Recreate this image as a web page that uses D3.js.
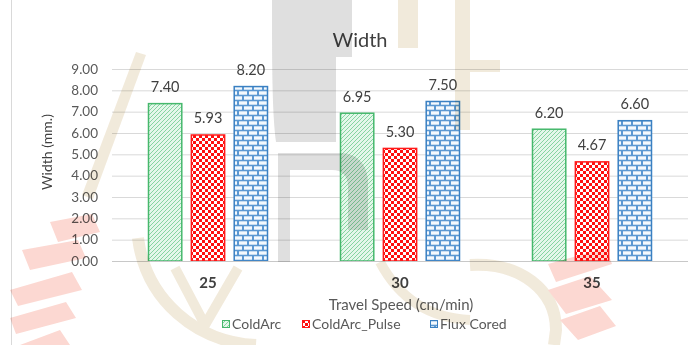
<!DOCTYPE html>
<html>
<head>
<meta charset="utf-8">
<script src="https://cdn.jsdelivr.net/npm/d3@7"></script>
<style>
  html, body { margin: 0; padding: 0; background: #ffffff; }
  svg { display: block; }
  text { font-family: Lato, "Open Sans", sans-serif; }
</style>
</head>
<body>
<svg id="chart" width="696" height="345"></svg>
<script>
// Weld bead width by travel speed and process
const categories = ["25", "30", "35"];
const seriesNames = ["ColdArc", "ColdArc_Pulse", "Flux Cored"];
const coldArc = [7.40, 6.95, 6.20];
const coldArcPulse = [5.93, 5.30, 4.67];
const fluxCored = [8.20, 7.50, 6.60];
const yTicks = [0, 1, 2, 3, 4, 5, 6, 7, 8, 9];

const series = [
  { name: seriesNames[0], values: coldArc, fill: "url(#pat-diag)", stroke: "#46b86c" },
  { name: seriesNames[1], values: coldArcPulse, fill: "url(#pat-check)", stroke: "#ff1a1a" },
  { name: seriesNames[2], values: fluxCored, fill: "url(#pat-brick)", stroke: "#3a80c2" }
];

const W = 696, H = 345;
const margin = { left: 112, right: 8, top: 69, bottom: 84 };
const svg = d3.select("#chart");
const defs = svg.append("defs");

// Fill patterns
const diag = defs.append("pattern").attr("id", "pat-diag")
  .attr("patternUnits", "userSpaceOnUse").attr("width", 4).attr("height", 4);
diag.append("rect").attr("width", 4).attr("height", 4).attr("fill", "#e4f7ea");
diag.append("path").attr("d", "M-1,1 L1,-1 M0,4 L4,0 M3,5 L5,3")
  .attr("stroke", "#86d4a1").attr("stroke-width", 1);

const check = defs.append("pattern").attr("id", "pat-check")
  .attr("patternUnits", "userSpaceOnUse").attr("width", 6).attr("height", 6);
check.append("rect").attr("width", 6).attr("height", 6).attr("fill", "#ffffff");
check.append("rect").attr("width", 3).attr("height", 3).attr("fill", "#ff1010");
check.append("rect").attr("x", 3).attr("y", 3).attr("width", 3).attr("height", 3).attr("fill", "#ff1010");

const brick = defs.append("pattern").attr("id", "pat-brick")
  .attr("patternUnits", "userSpaceOnUse").attr("width", 10).attr("height", 10);
brick.append("rect").attr("width", 10).attr("height", 10).attr("fill", "#5b98d2");
brick.append("rect").attr("x", 1).attr("y", 1.3).attr("width", 8).attr("height", 3.4).attr("fill", "#f4f9fe");
brick.append("rect").attr("x", -4).attr("y", 6.3).attr("width", 8).attr("height", 3.4).attr("fill", "#f4f9fe");
brick.append("rect").attr("x", 6).attr("y", 6.3).attr("width", 8).attr("height", 3.4).attr("fill", "#f4f9fe");

// Chart frame
svg.append("rect").attr("x", 11.5).attr("y", -2).attr("width", 700).attr("height", 350)
  .attr("fill", "#ffffff").attr("stroke", "#d9d9d9");

const x0 = d3.scaleBand().domain(categories)
  .range([margin.left, W - margin.right]).paddingInner(0.375).paddingOuter(0.1875);
const x1 = d3.scaleBand().domain(seriesNames)
  .range([0, x0.bandwidth()]).paddingInner(0.2);
const y = d3.scaleLinear().domain([0, 9]).range([H - margin.bottom, margin.top]);

// Gridlines and tick labels
const yAxis = d3.axisLeft(y).tickValues(yTicks)
  .tickSize(-(W - margin.right - margin.left)).tickFormat(d3.format(".2f")).tickPadding(14);
const gy = svg.append("g").attr("transform", `translate(${margin.left},0)`).call(yAxis);
gy.select(".domain").remove();
gy.selectAll(".tick line").attr("stroke", "#d9d9d9").attr("stroke-width", 1);
gy.selectAll(".tick text").attr("fill", "#595959").attr("font-size", 13.5);

// Bars
const groups = svg.append("g").selectAll("g").data(categories).join("g")
  .attr("transform", d => `translate(${x0(d)},0)`);
groups.selectAll("rect")
  .data((c, i) => series.map(s => ({ s, v: s.values[i] })))
  .join("rect")
  .attr("x", d => x1(d.s.name) + 0.5)
  .attr("y", d => y(d.v) + 0.5)
  .attr("width", x1.bandwidth() - 1)
  .attr("height", d => y(0) - y(d.v) - 0.5)
  .attr("fill", d => d.s.fill)
  .attr("stroke", d => d.s.stroke)
  .attr("stroke-width", 1.5);

// Value labels
groups.selectAll("text.val")
  .data((c, i) => series.map(s => ({ s, v: s.values[i] })))
  .join("text").attr("class", "val")
  .attr("x", d => x1(d.s.name) + x1.bandwidth() / 2)
  .attr("y", d => y(d.v) - 11)
  .attr("text-anchor", "middle")
  .attr("fill", "#404040").attr("font-size", 14.5)
  .text(d => d.v.toFixed(2));

// Category axis
svg.append("line").attr("x1", margin.left).attr("x2", W - margin.right)
  .attr("y1", y(0) + 0.5).attr("y2", y(0) + 0.5).attr("stroke", "#c8c8c8");
const xAxis = d3.axisBottom(x0).tickSize(0).tickPadding(16);
const gx = svg.append("g").attr("transform", `translate(0,${y(0)})`).call(xAxis);
gx.select(".domain").remove();
gx.selectAll(".tick text").attr("fill", "#404040").attr("font-size", 15)
  .attr("font-weight", "bold");

// Titles
svg.append("text").attr("x", 360).attr("y", 47).attr("text-anchor", "middle")
  .attr("fill", "#404040").attr("font-size", 20).text("Width");
svg.append("text").attr("transform", "translate(52,152) rotate(-90)")
  .attr("text-anchor", "middle").attr("fill", "#404040").attr("font-size", 14)
  .text("Width (mm.)");
svg.append("text").attr("x", 401).attr("y", 310).attr("text-anchor", "middle")
  .attr("fill", "#595959").attr("font-size", 15).text("Travel Speed (cm/min)");

// Legend
const legendX = [222, 302, 430];
const legend = svg.append("g").selectAll("g").data(series).join("g")
  .attr("transform", (d, i) => `translate(${legendX[i]},320)`);
legend.append("rect").attr("x", 0.5).attr("y", 0.5).attr("width", 7).attr("height", 7)
  .attr("fill", d => d.fill).attr("stroke", d => d.stroke);
legend.append("text").attr("x", 10).attr("y", 8.5).attr("fill", "#595959")
  .attr("font-size", 14).text(d => d.name);

// Faint emblem printed behind the page
const mark = svg.append("g").style("mix-blend-mode", "multiply").attr("opacity", 0.55);
const tan = "#e6d8bd", gray = "#c4c4c4", salmon = "#f9b8ac";
mark.append("path").attr("fill", gray)
  .attr("d", "M272,0 H352 V57 H336 V142 H276 C272,110 272,60 272,0 Z");
mark.append("path").attr("fill", gray)
  .attr("d", "M278,153 H340 C358,153 368,166 368,182 V230 H348 V186 C348,176 342,170 332,170 H290 V262 H278 Z");
mark.append("path").attr("fill", tan)
  .attr("d", "M82,195 L136,52 L146,55 L93,199 Z");
mark.append("path").attr("fill", tan)
  .attr("d", "M398,0 H418 V48 H398 Z M455,0 L470,0 L470,60 L500,60 V72 H470 V130 H455 Z");
mark.append("path").attr("fill", "none").attr("stroke", tan).attr("stroke-width", 12)
  .attr("d", "M138,238 C146,300 196,342 256,345");
mark.append("path").attr("fill", "none").attr("stroke", tan).attr("stroke-width", 10)
  .attr("d", "M175,268 L205,325 L238,268");
mark.append("path").attr("fill", "none").attr("stroke", tan).attr("stroke-width", 12)
  .attr("d", "M470,265 C520,262 556,290 556,330 L554,345");
mark.append("path").attr("fill", "none").attr("stroke", tan).attr("stroke-width", 10)
  .attr("d", "M380,262 C400,300 430,318 470,320");
mark.append("path").attr("fill", salmon)
  .attr("d", "M50,222 L92,214 L100,232 L58,242 Z M22,250 L78,240 L86,258 L30,270 Z M10,290 L72,272 L82,290 L18,306 Z M10,318 L66,302 L76,318 L16,334 Z M20,345 L60,330 L70,345 Z");
mark.append("path").attr("fill", salmon)
  .attr("d", "M548,264 L606,248 L612,264 L556,282 Z M548,290 L590,276 L612,300 L566,314 Z M560,320 L600,306 L616,326 L578,340 Z");
</script>
</body>
</html>
